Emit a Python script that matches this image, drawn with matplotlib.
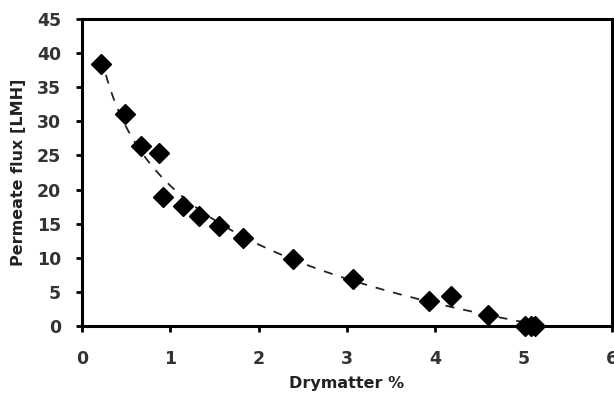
import numpy as np
import matplotlib
matplotlib.use("Agg")
import matplotlib.pyplot as plt

drymatter = [0.22, 0.49, 0.67, 0.87, 0.92, 1.14, 1.32, 1.55, 1.82, 2.39, 3.07, 3.93, 4.18, 4.60, 5.02, 5.08, 5.13]
flux = [38.4, 31.1, 26.4, 25.4, 18.9, 17.6, 16.1, 14.7, 12.9, 9.8, 6.9, 3.7, 4.4, 1.6, 0.0, 0.0, 0.0]
xticks = [0, 1, 2, 3, 4, 5, 6]
yticks = [0, 5, 10, 15, 20, 25, 30, 35, 40, 45]

fig = plt.figure(figsize=(6.14, 3.93), dpi=100)
ax = fig.add_axes([0.1336, 0.1705, 0.8631, 0.7812])

x = np.array(drymatter)
y = np.array(flux)
# logarithmic trendline fitted to the data
coef = np.polyfit(np.log(x), y, 1)
xs = np.linspace(x.min(), x.max(), 300)
ax.plot(xs, np.polyval(coef, np.log(xs)), color="#222222", lw=1.3, ls=(0, (5, 5)), zorder=2)
ax.plot(x, y, ls="none", marker="D", ms=10, color="black", zorder=3, clip_on=False)

ax.set_xlim(0, 6)
ax.set_ylim(0, 45)
ax.set_xticks(xticks)
ax.set_yticks(yticks)
for s in ax.spines.values():
    s.set_linewidth(2.2)
    s.set_color("black")
ax.tick_params(direction="out", length=4, width=2, colors="black", labelcolor="#333333")
ax.tick_params(axis="y", pad=11)
ax.tick_params(axis="x", pad=13)
for lab in ax.get_xticklabels() + ax.get_yticklabels():
    lab.set_fontsize(12.5)
    lab.set_fontweight("bold")
    lab.set_family("Liberation Sans Narrow")
ax.set_xlabel("Drymatter %", fontsize=11.5, fontweight="bold", color="#222222", family="Liberation Sans Narrow", labelpad=6)
ax.set_ylabel("Permeate flux [LMH]", fontsize=11.5, fontweight="bold", color="#222222", family="Liberation Sans Narrow", labelpad=8)

fig.savefig("out.png", dpi=100)
